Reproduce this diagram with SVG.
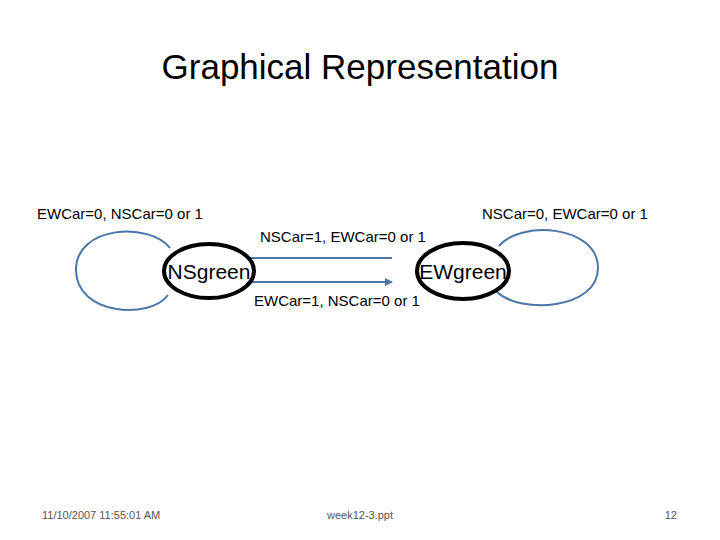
<svg xmlns="http://www.w3.org/2000/svg" width="720" height="540" viewBox="0 0 720 540">
<style>
text{font-family:"Liberation Sans",Calibri,sans-serif;fill:#000}
.lbl{font-size:15px}
.st{fill:#fff;stroke:#000;stroke-width:4}
.e{fill:none;stroke:#4a76a8;stroke-width:2}
.ft{font-size:11px;fill:#555}
</style>
<defs><marker id="a" markerWidth="8" markerHeight="8" refX="7" refY="4" orient="auto" markerUnits="userSpaceOnUse"><path d="M0,0L8,4L0,8z" fill="#4a76a8"/></marker></defs>
<rect width="720" height="540" fill="#fff"/>
<text x="360" y="79" text-anchor="middle" font-size="35">Graphical Representation</text>
<g id="connectors">
<path class="e" d="M170,248 C150,222 76,225 76,270 C76,315 150,320 168,295"/>
<path class="e" d="M499,246 C520,220 598,225 598,268 C598,310 520,314 497,292"/>
<path class="e" d="M392,258 L240,258"/>
<path class="e" d="M240,282 L392,282" marker-end="url(#a)"/>
</g>
<text class="lbl" x="37" y="219">EWCar=0, NSCar=0 or 1</text>
<text class="lbl" x="482" y="219">NSCar=0, EWCar=0 or 1</text>
<text class="lbl" x="260" y="242">NSCar=1, EWCar=0 or 1</text>
<text class="lbl" x="254" y="306">EWCar=1, NSCar=0 or 1</text>
<g id="NSgreen"><ellipse class="st" cx="209" cy="271" rx="45" ry="27"/><text x="209" y="279" text-anchor="middle" font-size="21">NSgreen</text></g>
<g id="EWgreen"><ellipse class="st" cx="463" cy="271" rx="46" ry="28"/><text x="463" y="279" text-anchor="middle" font-size="21">EWgreen</text></g>
<text class="ft" x="42" y="519">11/10/2007 11:55:01 AM</text>
<text class="ft" x="360" y="519" text-anchor="middle">week12-3.ppt</text>
<text class="ft" x="677" y="519" text-anchor="end">12</text>
</svg>
